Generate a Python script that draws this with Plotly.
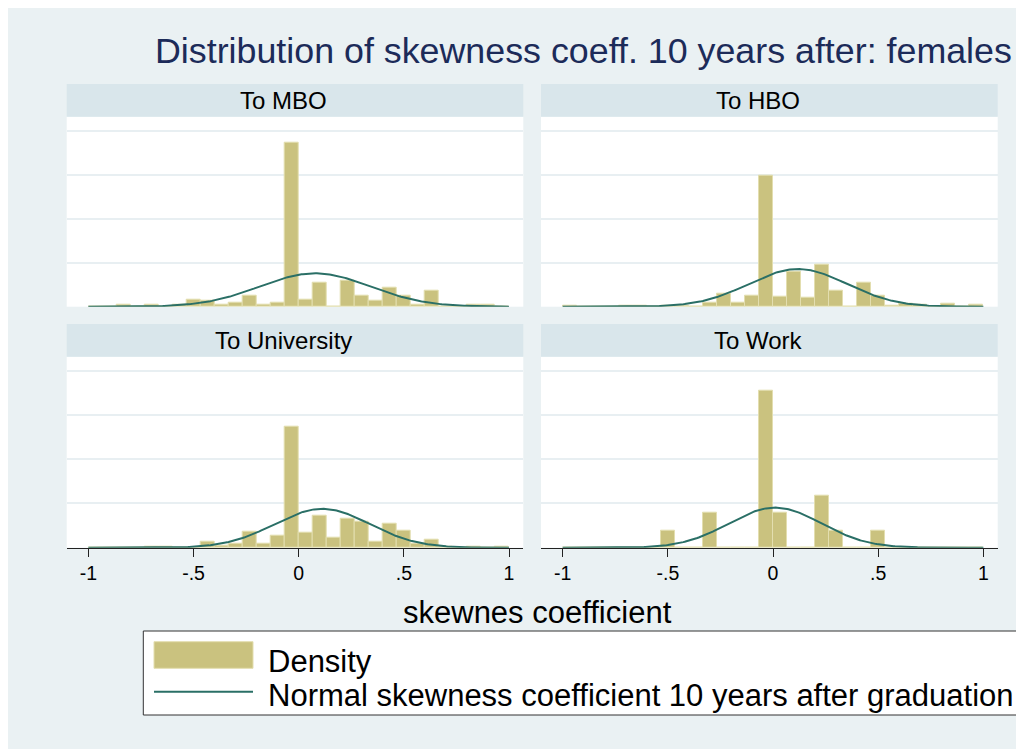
import numpy as np
import plotly.graph_objects as go

# histogram bins: 30 bins of width 1/15 from -1 to 1
bin_width = 1 / 15
bin_centers = [-1 + (i + 0.5) * bin_width for i in range(30)]

panel_titles = ["To MBO", "To HBO", "To University", "To Work"]

dens_mbo = [0, 0, 0.10, 0, 0.10, 0, 0.07, 0.33, 0.27, 0.10,
            0.20, 0.50, 0.10, 0.20, 7.47, 0.32, 1.10, 0, 1.17, 0.50,
            0.26, 0.85, 0.50, 0.10, 0.74, 0, 0, 0.10, 0.10, 0]
dens_hbo = [0.05, 0, 0, 0, 0.05, 0.05, 0, 0.03, 0.03, 0,
            0.20, 0.60, 0.20, 0.52, 5.97, 0.44, 1.59, 0.41, 1.89, 0.73,
            0, 1.08, 0.50, 0.05, 0.15, 0.10, 0, 0.15, 0, 0.10]
dens_uni = [0, 0, 0, 0, 0.05, 0.03, 0, 0, 0.29, 0.08,
            0.18, 0.74, 0.18, 0.56, 5.48, 0.70, 1.47, 0.45, 1.30, 1.18,
            0.27, 1.08, 0.79, 0.17, 0.38, 0.05, 0, 0.05, 0, 0.05]
dens_work = [0, 0, 0, 0, 0, 0, 0, 0.79, 0, 0,
             1.58, 0, 0, 0, 7.11, 1.58, 0, 0, 2.37, 0.79,
             0, 0, 0.79, 0, 0, 0, 0, 0, 0, 0]

# normal overlay parameters (mean, sd) per panel
norm_mean = [0.078, 0.118, 0.112, 0.010]
norm_sd = [0.263, 0.233, 0.227, 0.220]

tick_vals = [-1, -0.5, 0, 0.5, 1]
tick_text = ["-1", "-.5", "0", ".5", "1"]

BG = "#EAF1F3"
STRIP = "#D9E6EB"
GRID = "#E8EFF2"
KHAKI = "#CAC27F"
KHAKI_EDGE = "#E3DEAF"
TEAL = "#2A6F66"
NAVY = "#1C2B59"
FONT = "Liberation Sans, Arial, sans-serif"

W, H = 1024, 749
OFF = 8  # page body margin, figure starts at (8, 8) on screen


def px(x):
    return (x - OFF) / W


def py(y):
    return 1 - (y - OFF) / H


cols = [(66.7, 523.3), (541.0, 997.7)]
rows = [(116.7, 306.7), (356.7, 547.7)]
strip_h = 32.7
strip_text_x = [283.5, 758.0]

all_dens = [dens_mbo, dens_hbo, dens_uni, dens_work]

fig = go.Figure()
layout = {}
shapes = []
annotations = []

for k in range(4):
    r, c = divmod(k, 2)
    sfx = "" if k == 0 else str(k + 1)
    xn, yn = "x" + sfx, "y" + sfx

    fig.add_trace(go.Bar(
        x=bin_centers, y=all_dens[k], width=bin_width,
        marker=dict(color=KHAKI, line=dict(color=KHAKI_EDGE, width=1)),
        xaxis=xn, yaxis=yn, showlegend=False))

    xs = np.linspace(-1, 1, 301)
    ys = np.exp(-0.5 * ((xs - norm_mean[k]) / norm_sd[k]) ** 2) / (norm_sd[k] * np.sqrt(2 * np.pi))
    fig.add_trace(go.Scatter(
        x=xs, y=ys, mode="lines", line=dict(color=TEAL, width=2),
        xaxis=xn, yaxis=yn, showlegend=False))

    bottom = r == 1
    layout["xaxis" + sfx] = dict(
        domain=[px(cols[c][0]), px(cols[c][1])], anchor=yn,
        range=[-1.103, 1.068], showgrid=False, zeroline=False,
        showline=bottom, linecolor="#222222", linewidth=1,
        ticks="outside" if bottom else "", ticklen=8, tickcolor="#222222",
        tickvals=tick_vals, ticktext=tick_text, showticklabels=bottom,
        tickfont=dict(size=19.5, color="black", family=FONT))
    layout["yaxis" + sfx] = dict(
        domain=[py(rows[r][1]), py(rows[r][0])], anchor=xn,
        range=[0, 8.64], tickvals=[2, 4, 6, 8], showgrid=True,
        gridcolor=GRID, gridwidth=1.5, showticklabels=False,
        zeroline=False, showline=False, ticks="")

    # strip header
    top = rows[r][0]
    shapes.append(dict(type="rect", xref="paper", yref="paper",
                       x0=px(cols[c][0]), x1=px(cols[c][1]),
                       y0=py(top), y1=py(top - strip_h),
                       fillcolor=STRIP, line=dict(width=0), layer="below"))
    annotations.append(dict(text=panel_titles[k], xref="paper", yref="paper",
                            x=px(strip_text_x[c]), y=py(top - strip_h / 2),
                            xanchor="center", yanchor="middle", showarrow=False,
                            font=dict(size=24, color="black", family=FONT)))

# title and x title
annotations.append(dict(text="Distribution of skewness coeff. 10 years after: females",
                        xref="paper", yref="paper", x=px(153), y=py(51),
                        xanchor="left", yanchor="middle", showarrow=False,
                        font=dict(size=35.8, color=NAVY, family=FONT)))
annotations.append(dict(text="skewnes coefficient", xref="paper", yref="paper",
                        x=px(537.5), y=py(612), xanchor="center", yanchor="middle",
                        showarrow=False, font=dict(size=31, color="black", family=FONT)))

# legend box drawn by hand (Stata style keys)
shapes.append(dict(type="rect", xref="paper", yref="paper",
                   x0=px(143.3), x1=px(1016.7), y0=py(715), y1=py(631),
                   fillcolor="white", line=dict(color="#333333", width=1)))
shapes.append(dict(type="rect", xref="paper", yref="paper",
                   x0=px(154), x1=px(253), y0=py(668.3), y1=py(641.7),
                   fillcolor=KHAKI, line=dict(color=KHAKI_EDGE, width=1)))
shapes.append(dict(type="line", xref="paper", yref="paper",
                   x0=px(154), x1=px(253), y0=py(691.7), y1=py(691.7),
                   line=dict(color=TEAL, width=2)))
annotations.append(dict(text="Density", xref="paper", yref="paper",
                        x=px(266), y=py(661), xanchor="left", yanchor="middle",
                        showarrow=False, font=dict(size=31, color="black", family=FONT)))
annotations.append(dict(text="Normal skewness coefficient 10 years after graduation",
                        xref="paper", yref="paper", x=px(266), y=py(695),
                        xanchor="left", yanchor="middle", showarrow=False,
                        font=dict(size=31, color="black", family=FONT)))

fig.update_layout(
    width=W, height=H, margin=dict(l=0, r=0, t=0, b=0),
    paper_bgcolor=BG, plot_bgcolor="white", bargap=0,
    font=dict(family=FONT), shapes=shapes, annotations=annotations,
    **layout)

fig.write_html("out.html")
